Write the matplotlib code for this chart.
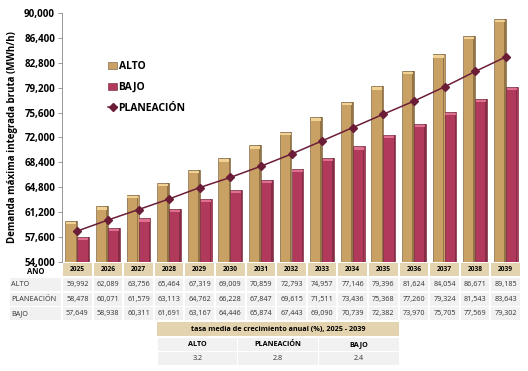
import numpy as np
import matplotlib
matplotlib.use('Agg')
import matplotlib.pyplot as plt
from matplotlib.patches import Rectangle
from matplotlib.lines import Line2D
from matplotlib.ticker import FuncFormatter

plt.rcParams['font.family'] = ['Open Sans', 'DejaVu Sans']

years = [2025, 2026, 2027, 2028, 2029, 2030, 2031, 2032, 2033, 2034, 2035, 2036, 2037, 2038, 2039]
alto = [59992, 62089, 63756, 65464, 67319, 69009, 70859, 72793, 74957, 77146, 79396, 81624, 84054, 86671, 89185]
planeacion = [58478, 60071, 61579, 63113, 64762, 66228, 67847, 69615, 71511, 73436, 75368, 77260, 79324, 81543, 83643]
bajo = [57649, 58938, 60311, 61691, 63167, 64446, 65874, 67443, 69090, 70739, 72382, 73970, 75705, 77569, 79302]
growth_labels = ['ALTO', 'PLANEACIÓN', 'BAJO']
growth_values = ['3.2', '2.8', '2.4']

c_alto = '#C9A165'
c_alto_dk = '#6E5632'
c_bajo = '#B13A5C'
c_bajo_dk = '#6E2338'
c_line = '#6B1D38'
c_tan = '#E3D3AE'
c_grey = '#F1F1F1'

W, H = 528, 371
fig = plt.figure(figsize=(W / 100, H / 100), dpi=100)

x0, x1, ytop, ybot = 62, 521, 13, 262
ax = fig.add_axes([x0 / W, 1 - ybot / H, (x1 - x0) / W, (ybot - ytop) / H])

x = np.arange(len(years))
bw = 0.39
base = 54000
ax.bar(x - bw / 2 + 0.03, np.array(alto) - base, bw, bottom=base, color='#e2ddd5', zorder=1)
ax.bar(x + bw / 2 + 0.03, np.array(bajo) - base, bw, bottom=base, color='#e2ddd5', zorder=1)
ax.bar(x - bw / 2, np.array(alto) - base, bw, bottom=base, color=c_alto, edgecolor=c_alto_dk, linewidth=0.4, zorder=2)
ax.bar(x + bw / 2, np.array(bajo) - base, bw, bottom=base, color=c_bajo, edgecolor=c_bajo_dk, linewidth=0.4, zorder=2)
# darker right edge + light top for the bevel look
ax.bar(x - 0.03, np.array(alto) - base, 0.05, bottom=base, color=c_alto_dk, alpha=0.6, zorder=3)
ax.bar(x + bw - 0.03, np.array(bajo) - base, 0.05, bottom=base, color=c_bajo_dk, alpha=0.6, zorder=3)
ax.bar(x - bw / 2, 350, bw * 0.85, bottom=np.array(alto) - 500, color='#F0D394', zorder=3)
ax.bar(x + bw / 2, 350, bw * 0.85, bottom=np.array(bajo) - 500, color='#DE6F8E', zorder=3)

ax.plot(x, planeacion, color=c_line, lw=1.1, marker='D', ms=4, zorder=4)

ax.set_xlim(-0.5, len(years) - 0.5)
ax.set_ylim(54000, 90000)
ax.set_yticks(np.arange(54000, 90001, 3600))
ax.yaxis.set_major_formatter(FuncFormatter(lambda v, p: f'{int(v):,}'))
ax.tick_params(axis='y', labelsize=7, length=3, width=0.6, color='#888888', pad=2)
for lab in ax.get_yticklabels():
    lab.set_fontweight('bold')
ax.set_xticks([])
for s in ['top', 'right', 'bottom']:
    ax.spines[s].set_visible(False)
ax.spines['left'].set_color('#888888')
ax.spines['left'].set_linewidth(0.6)
ax.set_ylabel('Demanda máxima integrada bruta (MWh/h)', fontsize=7, fontweight='bold', labelpad=4)

handles = [Rectangle((0, 0), 1, 1, fc=c_alto, ec=c_alto_dk, lw=0.4),
           Rectangle((0, 0), 1, 1, fc=c_bajo, ec=c_bajo_dk, lw=0.4),
           Line2D([], [], color=c_line, marker='D', ms=4, lw=1.1)]
ax.legend(handles, ['ALTO', 'BAJO', 'PLANEACIÓN'], loc='upper left', bbox_to_anchor=(0.08, 0.845),
          frameon=False, prop={'size': 7.5, 'weight': 'bold'}, handlelength=0.9, handleheight=0.6,
          handletextpad=0.1, labelspacing=0.95)

# table drawn on an overlay in pixel coordinates
tx = fig.add_axes([0, 0, 1, 1])
tx.set_xlim(0, W)
tx.set_ylim(H, 0)
tx.axis('off')
pitch = (x1 - x0) / len(years)

tx.text(36, 272, 'AÑO', ha='center', va='center', fontsize=5.5, fontweight='bold')
for i, yr in enumerate(years):
    cx = x0 + i * pitch
    tx.add_patch(Rectangle((cx + 1, 263), pitch - 2, 13, fc=c_tan, ec='none'))
    tx.text(cx + pitch / 2, 269.5, str(yr), ha='center', va='center', fontsize=4.8, fontweight='bold')

rows = [('ALTO', alto), ('PLANEACIÓN', planeacion), ('BAJO', bajo)]
for r, (name, vals) in enumerate(rows):
    y = 278 + r * 14.7
    tx.add_patch(Rectangle((10, y), x0 - 11, 13, fc=c_grey, ec='none'))
    tx.text(11, y + 6.5, name, ha='left', va='center', fontsize=5.2, color='#333333')
    for i, v in enumerate(vals):
        cx = x0 + i * pitch
        tx.add_patch(Rectangle((cx + 1, y), pitch - 2, 13, fc=c_grey, ec='none'))
        tx.text(cx + pitch / 2, y + 6.5, f'{v:,}', ha='center', va='center', fontsize=5.2, color='#333333')

gx0, gx1 = 157, 399
tx.add_patch(Rectangle((gx0, 322), gx1 - gx0, 14, fc=c_tan, ec='none'))
tx.text((gx0 + gx1) / 2, 329, 'tasa media de crecimiento anual (%), 2025 - 2039', ha='center', va='center',
        fontsize=5.2, fontweight='bold')
cw = (gx1 - gx0) / 3
for j, (lab, val) in enumerate(zip(growth_labels, growth_values)):
    cx = gx0 + j * cw
    tx.add_patch(Rectangle((cx + 0.5, 338), cw - 1, 13, fc=c_grey, ec='none'))
    tx.text(cx + cw / 2, 344.5, lab, ha='center', va='center', fontsize=5.2, fontweight='bold')
    tx.add_patch(Rectangle((cx + 0.5, 352), cw - 1, 13, fc=c_grey, ec='none'))
    tx.text(cx + cw / 2, 358.5, val, ha='center', va='center', fontsize=5.2, color='#333333')

fig.savefig('out.png', dpi=100)
